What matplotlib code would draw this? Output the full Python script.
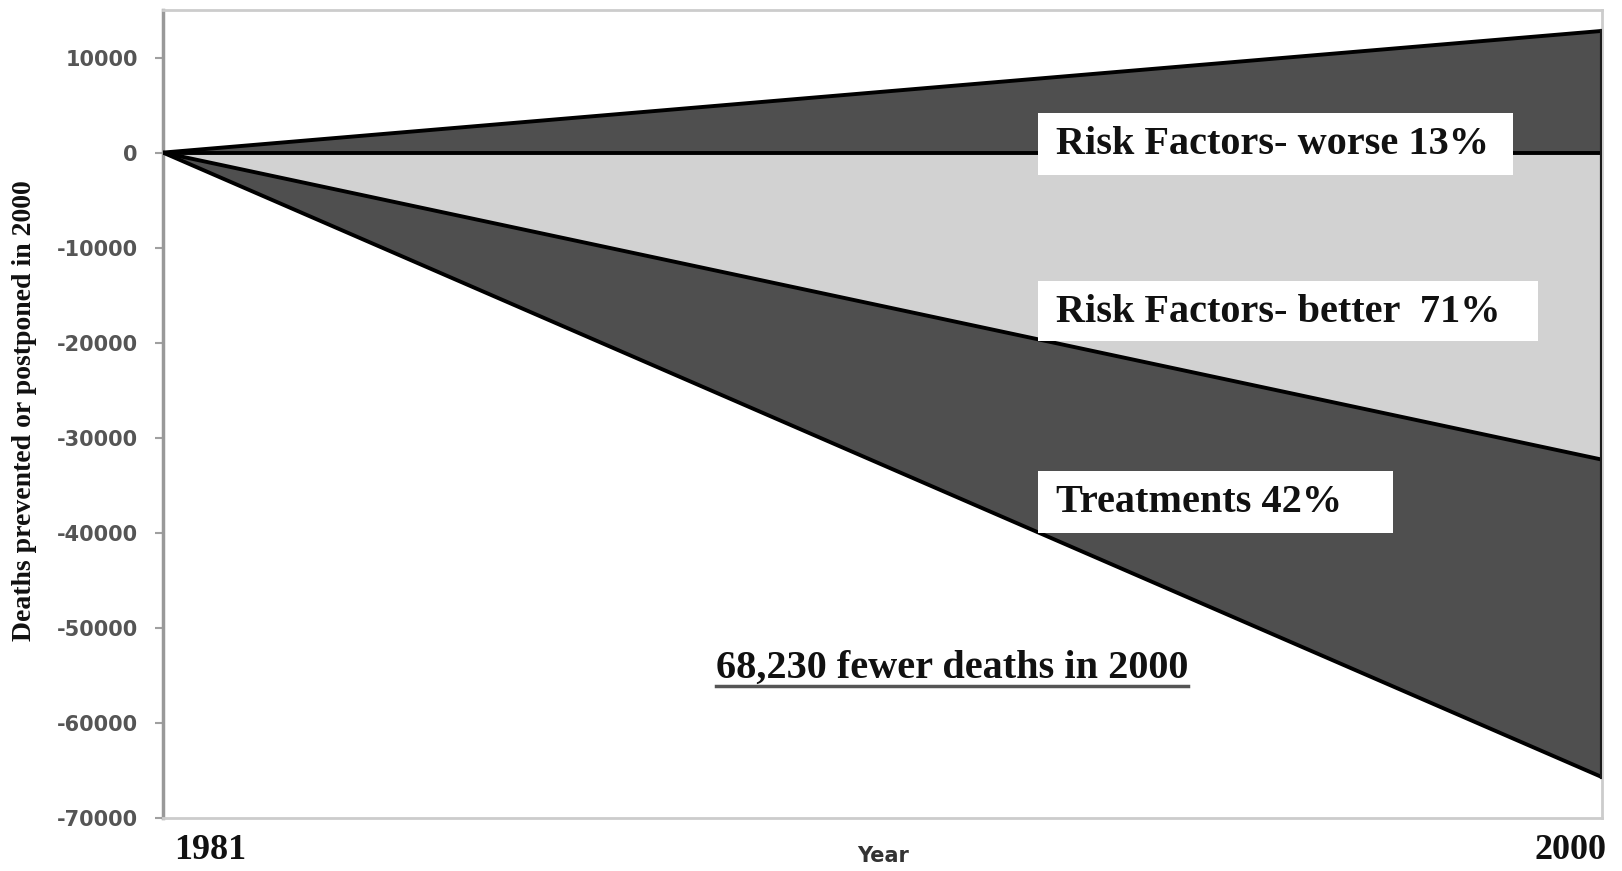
import matplotlib
matplotlib.use("Agg")
import matplotlib.pyplot as plt
from matplotlib.patches import Rectangle
from matplotlib.lines import Line2D

# ---- data ----
years = [1981, 2000]
risk_worse = [0, 12800]          # upper band top edge
risk_better = [0, -32300]        # lower edge of light band
total = [0, -65700]              # lower edge of treatments band
zero = [0, 0]
yticks = [10000, 0, -10000, -20000, -30000, -40000, -50000, -60000, -70000]
ytick_labels = ["10000", "0", "-10000", "-20000", "-30000", "-40000",
                "-50000", "-60000", "-70000"]
year_labels = ["1981", "2000"]
box_texts = ["Risk Factors- worse 13%", "Risk Factors- better  71%", "Treatments 42%"]
summary = "68,230 fewer deaths in 2000"
ylabel = "Deaths prevented or postponed in 2000"
xlabel = "Year"

W, H = 1622, 871
fig = plt.figure(figsize=(W / 100, H / 100), dpi=100)
fig.patch.set_facecolor("white")

def fx(px):
    return px / W

def fy(py):
    return 1 - py / H

ax = fig.add_axes([fx(163), fy(818), fx(1602) - fx(163), fy(10) - fy(818)])
ax.set_facecolor("white")

dark = "#4f4f4f"
light = "#d2d2d2"

ax.fill_between(years, zero, risk_worse, color=dark, lw=0, zorder=1)
ax.fill_between(years, risk_better, zero, color=light, lw=0, zorder=1)
ax.fill_between(years, total, risk_better, color=dark, lw=0, zorder=1)

for s in (risk_worse, zero, risk_better, total):
    ax.plot(years, s, color="black", lw=2.8, solid_capstyle="butt", zorder=3)
ax.plot([years[1], years[1]], [total[1], risk_worse[1]], color="#1a1a1a", lw=3, zorder=3)

ax.set_xlim(years[0], years[1])
ax.set_ylim(-70000, 15000)
ax.set_yticks(yticks)
ax.set_yticklabels(ytick_labels, fontsize=15, fontweight="bold",
                   color="#555555", family="DejaVu Sans")
ax.tick_params(axis="y", length=6, width=1.5, color="#a0a0a0", pad=12)
ax.set_xticks([])

ax.spines["left"].set_color("#999999")
ax.spines["left"].set_linewidth(2.5)
for sp in ("top", "right", "bottom"):
    ax.spines[sp].set_color("#cccccc")
    ax.spines[sp].set_linewidth(2)

# year labels
fig.text(fx(210), fy(850), year_labels[0], ha="center", va="center",
         fontsize=26, fontweight="bold", family="Liberation Serif", color="#111111")
fig.text(fx(1571), fy(850), year_labels[1], ha="center", va="center",
         fontsize=26, fontweight="bold", family="Liberation Serif", color="#111111")
fig.text(fx(883), fy(856), xlabel, ha="center", va="center",
         fontsize=15, fontweight="bold", family="DejaVu Sans", color="#333333")

# y label
fig.text(fx(25), fy(411), ylabel, ha="center", va="center", rotation=90,
         fontsize=20, fontweight="bold", family="Liberation Serif", color="#111111")

# label boxes
boxes = [(1038, 113, 1513, 175), (1038, 281, 1538, 341), (1038, 471, 1393, 533)]
for (x0, y0, x1, y1), t in zip(boxes, box_texts):
    fig.patches.append(Rectangle((fx(x0), fy(y1)), fx(x1) - fx(x0), fy(y0) - fy(y1),
                                 transform=fig.transFigure, facecolor="white",
                                 edgecolor="none", zorder=5))
    fig.text(fx(x0 + 18), fy((y0 + y1) / 2 + 1), t, ha="left", va="center",
             fontsize=29, fontweight="bold", family="Liberation Serif",
             color="#111111", zorder=6)

# summary with underline
st = fig.text(fx(952), fy(668), summary, ha="center", va="center",
              fontsize=29, fontweight="bold", family="Liberation Serif",
              color="#111111", zorder=6)
fig.canvas.draw()
bb = st.get_window_extent()
fig.lines.append(Line2D([bb.x0 / W, bb.x1 / W], [fy(686), fy(686)],
                        transform=fig.transFigure, color="#555555", lw=2.5))

fig.savefig("out.png", dpi=100, facecolor="white")
